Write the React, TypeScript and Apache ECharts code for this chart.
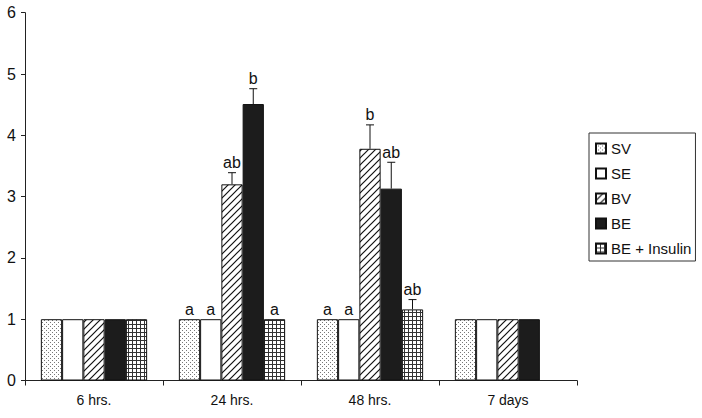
import React, { useEffect, useRef } from "react";
import * as echarts from "echarts";

const categories = ["6 hrs.", "24 hrs.", "48 hrs.", "7 days"];
const seriesNames = ["SV", "SE", "BV", "BE", "BE + Insulin"];
const svValues = [1, 1, 1, 1];
const seValues = [1, 1, 1, 1];
const bvValues = [1, 3.2, 3.78, 1];
const beValues = [1, 4.51, 3.13, 1];
const beiValues: (number | null)[] = [1, 1, 1.16, null];
const svErr = [0, 0, 0, 0];
const seErr = [0, 0, 0, 0];
const bvErr = [0, 0.19, 0.39, 0];
const beErr = [0, 0.25, 0.43, 0];
const beiErr = [0, 0, 0.16, 0];
const svLetters = ["", "a", "a", ""];
const seLetters = ["", "a", "a", ""];
const bvLetters = ["", "ab", "b", ""];
const beLetters = ["", "b", "ab", ""];
const beiLetters = ["", "a", "ab", ""];
const yTicks = [0, 1, 2, 3, 4, 5, 6];

const CAT_GAP = 0.23;
const FONT = "'Liberation Sans', Arial, sans-serif";

function makeTile(size: number, draw: (c: CanvasRenderingContext2D) => void) {
  const cv = document.createElement("canvas");
  cv.width = size;
  cv.height = size;
  const c = cv.getContext("2d")!;
  c.fillStyle = "#ffffff";
  c.fillRect(0, 0, size, size);
  draw(c);
  return cv;
}

export default function App() {
  const ref = useRef<HTMLDivElement>(null);
  useEffect(() => {
    if (!ref.current) return;
    const dots = makeTile(4, (c) => {
      c.fillStyle = "#777";
      c.fillRect(0, 0, 1, 1);
      c.fillRect(2, 2, 1, 1);
    });
    const hatch = makeTile(7, (c) => {
      c.strokeStyle = "#111";
      c.lineWidth = 1.2;
      c.beginPath();
      c.moveTo(-1, 8);
      c.lineTo(8, -1);
      c.moveTo(-2, 2);
      c.lineTo(2, -2);
      c.moveTo(5, 9);
      c.lineTo(9, 5);
      c.stroke();
    });
    const grid = makeTile(4, (c) => {
      c.fillStyle = "#333";
      c.fillRect(0, 0, 4, 1);
      c.fillRect(0, 0, 1, 4);
    });
    const fills: any[] = [
      { image: dots, repeat: "repeat" },
      "#ffffff",
      { image: hatch, repeat: "repeat" },
      "#1c1c1c",
      { image: grid, repeat: "repeat" },
    ];
    const values = [svValues, seValues, bvValues, beValues, beiValues];
    const errs = [svErr, seErr, bvErr, beErr, beiErr];
    const letters = [svLetters, seLetters, bvLetters, beLetters, beiLetters];

    const annData: any[] = [];
    values.forEach((vals, si) => {
      vals.forEach((v, ci) => {
        if (v == null) return;
        if (!errs[si][ci] && !letters[si][ci]) return;
        annData.push([ci, si, v, errs[si][ci], letters[si][ci]]);
      });
    });

    const chart = echarts.init(ref.current, undefined, { renderer: "svg" });
    chart.setOption({
      animation: false,
      backgroundColor: "#ffffff",
      textStyle: { fontFamily: FONT },
      grid: { left: 25, right: 125, top: 12.7, bottom: 37.5, containLabel: false },
      legend: {
        orient: "vertical",
        left: 589,
        top: 133,
        padding: [8, 4, 5, 6],
        itemGap: 10,
        itemWidth: 10,
        itemHeight: 10,
        icon: "rect",
        selectedMode: false,
        borderColor: "#333",
        borderWidth: 1,
        backgroundColor: "#fff",
        data: seriesNames,
        textStyle: { fontSize: 15, color: "#111", fontFamily: FONT },
      },
      xAxis: {
        type: "category",
        data: categories,
        axisLine: { lineStyle: { color: "#222", width: 1 } },
        axisTick: { show: true, length: 5, lineStyle: { color: "#222" } },
        axisLabel: { fontSize: 14, color: "#111", margin: 12, fontFamily: FONT },
        splitLine: { show: false },
      },
      yAxis: {
        type: "value",
        min: yTicks[0],
        max: yTicks[yTicks.length - 1],
        interval: 1,
        axisLine: { show: true, lineStyle: { color: "#222", width: 1 } },
        axisTick: { show: true, length: 4, lineStyle: { color: "#222" } },
        axisLabel: { fontSize: 16, color: "#111", margin: 9, fontFamily: FONT },
        splitLine: { show: false },
      },
      series: [
        ...seriesNames.map((name, si) => ({
          name,
          type: "bar",
          data: values[si],
          barGap: "0%",
          barCategoryGap: CAT_GAP * 100 + "%",
          itemStyle: { color: fills[si], borderColor: "#111", borderWidth: 1 },
          emphasis: { disabled: true },
        })),
        {
          type: "custom",
          name: "annotations",
          silent: true,
          z: 10,
          data: annData,
          encode: { x: 0, y: 2 },
          renderItem: (params: any, api: any) => {
            const ci = api.value(0);
            const si = api.value(1);
            const v = api.value(2);
            const e = api.value(3);
            const lab = annData[params.dataIndex][4];
            const band = api.size([1, 0])[0];
            const bw = (band * (1 - CAT_GAP)) / 5;
            const center = api.coord([ci, 0])[0];
            const x = center - 2.5 * bw + (si + 0.5) * bw;
            const yTop = api.coord([ci, v])[1];
            const children: any[] = [];
            let labelY = yTop - 2;
            if (e > 0) {
              const yErr = api.coord([ci, v + e])[1];
              children.push({
                type: "line",
                shape: { x1: x, y1: yTop, x2: x, y2: yErr },
                style: { stroke: "#111", lineWidth: 1 },
              });
              children.push({
                type: "line",
                shape: { x1: x - 4, y1: yErr, x2: x + 4, y2: yErr },
                style: { stroke: "#111", lineWidth: 1 },
              });
              labelY = yErr - 2;
            }
            if (lab) {
              children.push({
                type: "text",
                x,
                y: labelY,
                style: {
                  text: lab,
                  fontSize: 16,
                  fontFamily: FONT,
                  fill: "#111",
                  align: "center",
                  verticalAlign: "bottom",
                },
              });
            }
            return { type: "group", children };
          },
        },
      ],
    });
    return () => chart.dispose();
  }, []);
  return <div ref={ref} style={{ width: 702, height: 418, position: "absolute", left: 0, top: 0 }} />;
}
